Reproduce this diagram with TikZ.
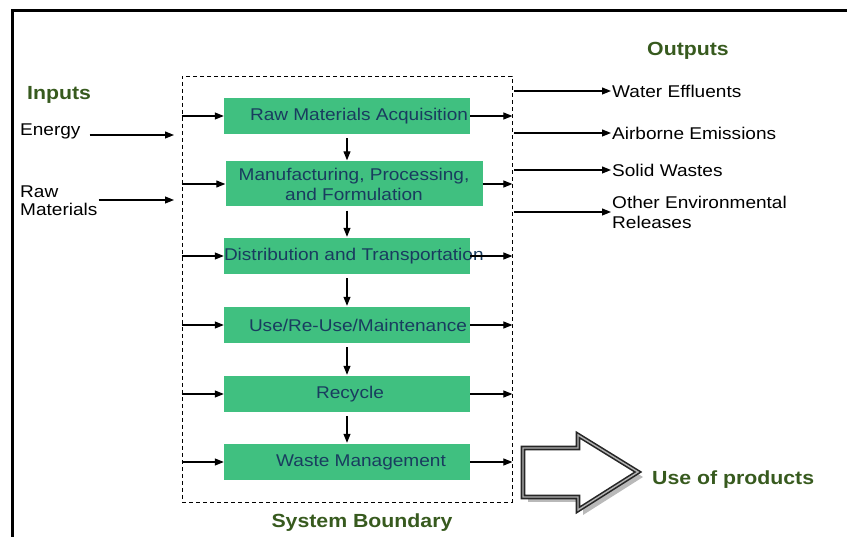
\documentclass[tikz,border=0pt]{standalone}
\usepackage{fontspec}
\setmainfont{Liberation Sans}[FakeStretch=1.12]
\usetikzlibrary{arrows.meta,shadows}

\definecolor{stagegreen}{RGB}{64,192,128}
\definecolor{stagetext}{RGB}{25,60,95}
\definecolor{headgreen}{RGB}{55,90,30}

\begin{document}
\begin{tikzpicture}[
  x=1pt, y=-1pt,
  every node/.style={
    inner sep=1pt, font=\fontsize{17}{20}\selectfont,
  },
  stage/.style={
    fill=stagegreen, text=stagetext, align=center,
    minimum width=246, minimum height=36, inner sep=0pt
  },
  heading/.style={
    text=headgreen, font=\fontsize{19}{21}\selectfont\bfseries
  },
  flow/.style={-{Triangle[length=9pt,width=7pt]}, line width=1.1pt},
  bigarrow/.style={
    draw=black!85, line width=1.6pt, double=black!30, double distance=1.4pt,
    fill=white, drop shadow={shadow xshift=5pt, shadow yshift=-5pt, fill=black!55}
  }
  ]
  \useasboundingbox (0,0) rectangle (847,537);
  \draw[line width=3pt] (12,537) -- (12,10.5) -- (847,10.5);

  % system boundary
  \node[draw, thick, dash pattern=on 4pt off 3pt, minimum width=330, minimum height=426, inner sep=0pt] (bound) at (347,289) {};
  \node[heading] (sysb) at (362,523) {System Boundary};

  % life cycle stages
  \node[stage] (acq) at (347,116) {\hspace*{24pt}Raw Materials Acquisition};
  \node[stage, minimum width=257, minimum height=45] (manu) at (354,184) {Manufacturing, Processing,\\and Formulation};
  \node[stage] (dist) at (347,256) {\makebox[246pt][l]{Distribution and Transportation}};
  \node[stage] (use) at (347,325) {\hspace*{22pt}Use/Re-Use/Maintenance};
  \node[stage] (recy) at (347,394) {\hspace*{6pt}Recycle};
  \node[stage] (waste) at (347,462) {\hspace*{28pt}Waste Management};

  \foreach \a/\b in {acq/manu, manu/dist, dist/use, use/recy, recy/waste}
    \draw[flow, shorten <=4pt, shorten >=1pt] (acq.south |- \a.south) -- (acq.south |- \b.north);
  \foreach \s in {acq, manu, dist, use, recy, waste} {
    \draw[flow] (bound.west |- \s) -- (\s.west);
    \draw[flow] (\s.east) -- (bound.east |- \s);
  }

  % inputs
  \node[heading, anchor=west] (inputs) at (26,95) {Inputs};
  \node[anchor=west] (energy) at (19,131) {Energy};
  \node[anchor=west, align=left, font=\fontsize{17}{18}\selectfont] (rawmat) at (19,201) {Raw\\Materials};
  \coordinate (ein) at (174,135);
  \coordinate (rin) at (174,200);
  \draw[flow, shorten <=8pt] (ein -| energy.east) -- (ein);
  \draw[flow] (rin -| rawmat.east) -- (rin);

  % outputs
  \node[heading] (outputs) at (688,51) {Outputs};
  \node[anchor=west] (water) at (611,91) {Water Effluents};
  \node[anchor=west] (air) at (611,133) {Airborne Emissions};
  \node[anchor=west] (solid) at (611,170) {Solid Wastes};
  \node[anchor=west, align=left] (other) at (611,212) {Other Environmental\\Releases};
  \foreach \o in {water, air, solid, other}
    \draw[flow, shorten <=2pt] (bound.east |- \o) -- (\o.west);

  % use of products
  \draw[bigarrow] (523,448) -- (578,448) -- (578,435) -- (638,472) -- (578,510) -- (578,497) -- (523,497) -- cycle;
  \node[heading, anchor=west] (useprod) at (651,480) {Use of products};
\end{tikzpicture}
\end{document}
